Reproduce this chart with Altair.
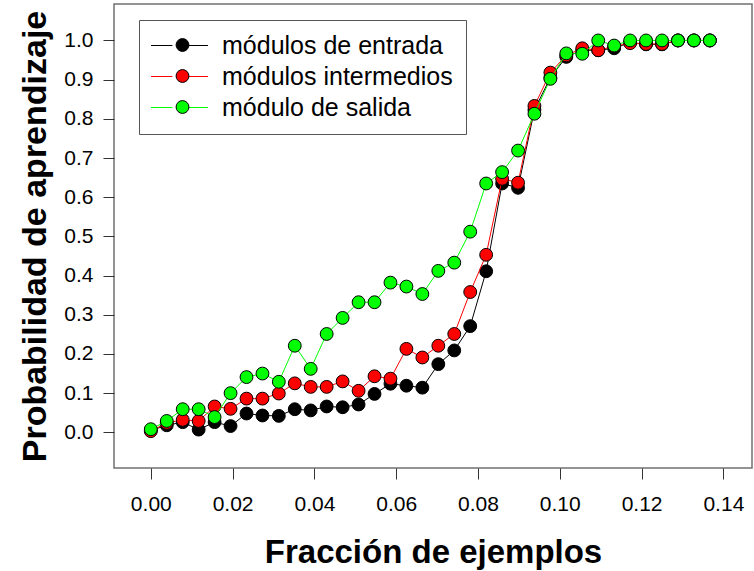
import altair as alt
import pandas as pd

# ---- data ----
x_vals = [0.0, 0.0039, 0.0078, 0.0117, 0.0156, 0.0195, 0.0234, 0.0273, 0.0313, 0.0352,
          0.0391, 0.0430, 0.0469, 0.0508, 0.0547, 0.0586, 0.0625, 0.0664, 0.0703, 0.0742,
          0.0781, 0.0820, 0.0859, 0.0898, 0.0938, 0.0977, 0.1016, 0.1055, 0.1094, 0.1133,
          0.1172, 0.1211, 0.1250, 0.1289, 0.1328, 0.1367]

entrada = [0.005, 0.018, 0.026, 0.007, 0.026, 0.016, 0.048, 0.043, 0.042, 0.059,
           0.056, 0.066, 0.064, 0.071, 0.098, 0.124, 0.119, 0.114, 0.174, 0.209,
           0.271, 0.411, 0.635, 0.624, 0.823, 0.905, 0.958, 0.975, 0.975, 0.980,
           0.995, 0.990, 0.990, 1.0, 1.0, 1.0]

intermedios = [0.003, 0.024, 0.032, 0.029, 0.066, 0.060, 0.086, 0.086, 0.099, 0.125,
               0.116, 0.116, 0.130, 0.106, 0.143, 0.137, 0.213, 0.191, 0.221, 0.251,
               0.358, 0.453, 0.647, 0.637, 0.833, 0.918, 0.962, 0.980, 0.975, 0.985,
               0.993, 0.991, 0.991, 1.0, 1.0, 1.0]

salida = [0.008, 0.029, 0.059, 0.059, 0.039, 0.100, 0.141, 0.150, 0.129, 0.221,
          0.162, 0.251, 0.292, 0.332, 0.332, 0.382, 0.372, 0.353, 0.412, 0.433,
          0.512, 0.635, 0.664, 0.719, 0.813, 0.902, 0.967, 0.966, 1.0, 0.987,
          1.0, 1.0, 1.0, 1.0, 1.0, 1.0]

series_names = ["módulos de entrada", "módulos intermedios", "módulo de salida"]
series_keys = ["1", "2", "3"]
colors = ["#000000", "#ff0000", "#00ff00"]

x_ticks = [0.0, 0.02, 0.04, 0.06, 0.08, 0.10, 0.12, 0.14]
y_ticks = [0.0, 0.1, 0.2, 0.3, 0.4, 0.5, 0.6, 0.7, 0.8, 0.9, 1.0]

rows = []
for name, key, vals in zip(series_names, series_keys, [entrada, intermedios, salida]):
    for xv, yv in zip(x_vals, vals):
        rows.append({"x": xv, "y": yv, "series": name, "key": key})
df = pd.DataFrame(rows)

FONT = "Liberation Sans"

xscale = alt.Scale(domain=[-0.009, 0.147], nice=False, zero=False)
yscale = alt.Scale(domain=[-0.091, 1.093], nice=False, zero=False)

x_enc = alt.X("x:Q", scale=xscale, axis=alt.Axis(
    values=x_ticks, format=".2f", domain=False, grid=False,
    tickSize=11, tickColor="#333333", tickWidth=1,
    labelFontSize=21, labelFont=FONT, labelColor="black", labelPadding=14,
    title="Fracción de ejemplos", titleFontSize=33, titleFont=FONT,
    titleFontWeight="bold", titleColor="black", titlePadding=22))

y_enc = alt.Y("y:Q", scale=yscale, axis=alt.Axis(
    values=y_ticks, format=".1f", domain=False, grid=False,
    tickSize=11, tickColor="#333333", tickWidth=1,
    labelFontSize=21, labelFont=FONT, labelColor="black", labelPadding=10,
    title="Probabilidad de aprendizaje", titleFontSize=34, titleFont=FONT,
    titleFontWeight="bold", titleColor="black", titlePadding=11))

stroke_scale = alt.Scale(domain=series_names, range=colors)
fill_scale = alt.Scale(domain=series_keys, range=colors)

# legend with the coloured line segments and the labels (and the box)
legend_line = alt.Legend(
    title=None, orient="none", legendX=25, legendY=16,
    symbolType="M-4.44,0H-1.1M1.1,0H4.44", symbolSize=165, symbolStrokeWidth=1,
    symbolOffset=15, labelOffset=30, labelFontSize=25, labelFont=FONT,
    labelLimit=500, labelColor="black", padding=13, rowPadding=5,
    strokeColor="#555555")

# overlay legend with only the black-outlined circles (no labels)
legend_pt = alt.Legend(
    title=None, orient="none", legendX=25, legendY=21,
    symbolType="circle", symbolSize=165, symbolStrokeColor="black",
    symbolStrokeWidth=1, symbolOpacity=1, symbolOffset=23.5,
    labelExpr="''", labelFontSize=1, labelOffset=0,
    padding=13, rowPadding=13)

base = alt.Chart(df)
layers = []
for name in series_names:
    sub = base.transform_filter(alt.datum.series == name)
    layers.append(sub.mark_line(strokeWidth=1).encode(
        x=x_enc, y=y_enc,
        stroke=alt.Stroke("series:N", scale=stroke_scale, legend=legend_line)))
    layers.append(sub.mark_point(filled=True, shape="circle", size=165,
                                 stroke="black", strokeWidth=1, opacity=1).encode(
        x=x_enc, y=y_enc,
        fill=alt.Fill("key:N", scale=fill_scale, legend=legend_pt)))

chart = alt.layer(*layers).properties(
    width=638, height=464,
    autosize=alt.AutoSizeParams(type="none"),
    padding={"left": 114, "top": 4, "right": 2, "bottom": 103},
    background="white",
).configure_view(stroke="#707070", strokeWidth=1.5)

chart.save("out.html", embed_options={"renderer": "svg", "actions": False})
